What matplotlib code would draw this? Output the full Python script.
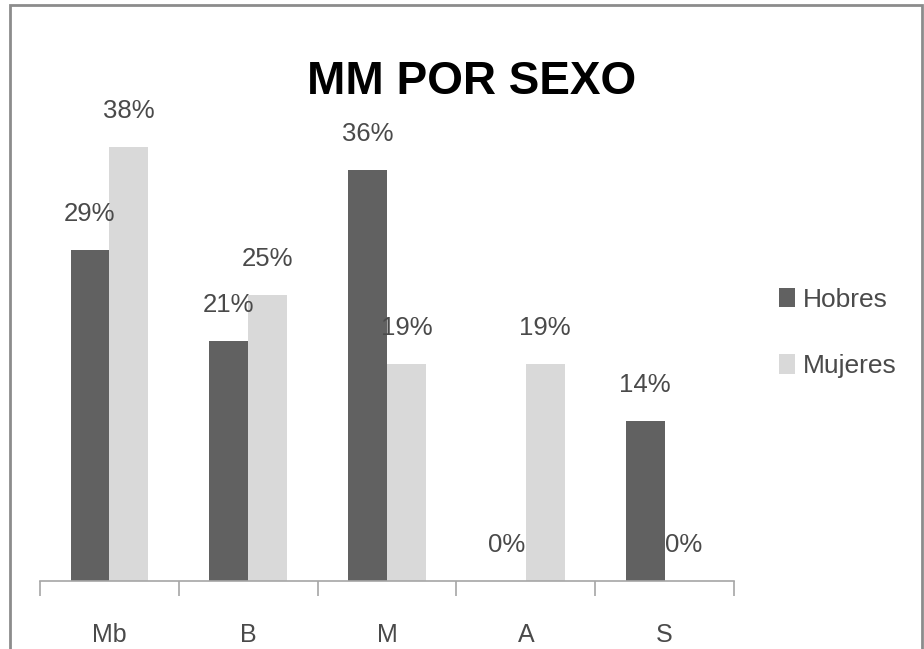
import matplotlib

matplotlib.use("Agg")
import matplotlib.pyplot as plt
from matplotlib.patches import Rectangle
import numpy as np

categories = ["Mb", "B", "M", "A", "S"]
hombres = [0.29, 0.21, 0.36, 0.00, 0.14]
mujeres = [0.38, 0.25, 0.19, 0.19, 0.00]
series_names = ["Hobres", "Mujeres"]

DARK = "#616161"
LIGHT = "#d9d9d9"
TEXT = "#4a4a4a"

plt.rcParams["font.family"] = ["Liberation Sans", "DejaVu Sans"]

W, H = 924, 649
fig = plt.figure(figsize=(W / 100, H / 100), dpi=100)
ax = fig.add_axes([40 / W, 1 - 581 / H, (734 - 40) / W, (581 - 124) / H])

x = np.arange(len(categories))
width = 0.28
b1 = ax.bar(x - width / 2, hombres, width, color=DARK, label=series_names[0])
b2 = ax.bar(x + width / 2, mujeres, width, color=LIGHT, label=series_names[1])

for bars, vals in ((b1, hombres), (b2, mujeres)):
    for rect, v in zip(bars, vals):
        ax.annotate(f"{v:.0%}", xy=(rect.get_x() + rect.get_width() / 2, v),
                    xytext=(0, 26), textcoords="offset points", ha="center", va="center",
                    fontsize=18.5, color=TEXT)

ax.set_xlim(-0.5, len(categories) - 0.5)
ax.set_ylim(0, 0.40)
ax.set_yticks([])
for side in ("top", "right", "left"):
    ax.spines[side].set_visible(False)
ax.spines["bottom"].set_color("#a6a6a6")
ax.spines["bottom"].set_linewidth(1.2)
ax.set_xticks(np.arange(len(categories) + 1) - 0.5, minor=False)
ax.set_xticklabels([])
ax.tick_params(axis="x", which="major", length=11, color="#a6a6a6", width=1.2)
ax.set_xticks(x, minor=True)
ax.set_xticklabels(categories, minor=True, fontsize=18, color=TEXT)
ax.tick_params(axis="x", which="minor", length=0, pad=30)

fig.text(472 / W, 1 - 82 / H, "MM POR SEXO", ha="center", va="center",
         fontsize=33, fontweight="bold", color="black")

leg = ax.legend(loc="center left", bbox_to_anchor=(779 / W, 1 - 333 / H),
                bbox_transform=fig.transFigure, frameon=False, fontsize=19,
                handlelength=0.6, handleheight=0.75, handletextpad=0.3,
                labelspacing=1.6, labelcolor=TEXT, borderpad=0, borderaxespad=0)

fig.patches.append(Rectangle((10 / W, -0.05), 912 / W, 1.05 - 5 / H, transform=fig.transFigure,
                             fill=False, edgecolor="#8c8c8c", linewidth=2))

fig.savefig("out.png", dpi=100)
